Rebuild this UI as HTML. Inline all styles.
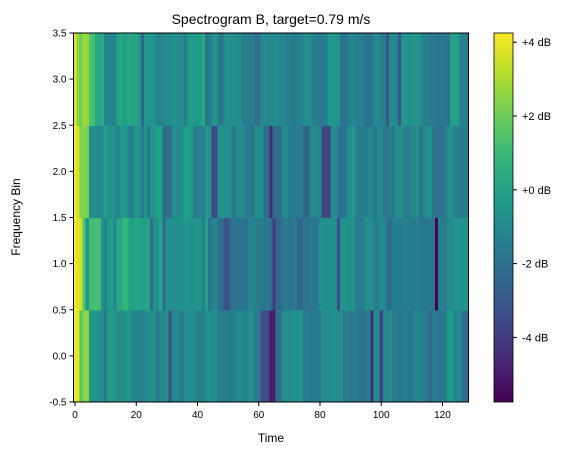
<!DOCTYPE html>
<html><head><meta charset="utf-8"><style>
body{margin:0;background:#fff}
text{font-family:"Liberation Sans",sans-serif;fill:#000}
</style></head><body>
<svg id="chart" width="575" height="455" viewBox="0 0 575 455" xmlns="http://www.w3.org/2000/svg">
<defs><linearGradient id="cbg" x1="0" y1="1" x2="0" y2="0"></linearGradient></defs>
<text x="271" y="24" text-anchor="middle" font-size="14">Spectrogram B, target=0.79 m/s</text>
<g id="cells"></g>
<g id="axes"></g>
<text x="271" y="442" text-anchor="middle" font-size="12">Time</text>
<text transform="translate(20,217) rotate(-90)" text-anchor="middle" font-size="12">Frequency Bin</text>
<g id="cbar"></g>
</svg>
<script>
const row0 = [4.1,3.9,1.5,2.5,2.6,-0.5,-0.4,-0.6,-0.8,-0.9,-1.8,-0.4,-0.3,-0.5,-0.8,-0.7,-0.9,-0.4,-0.5,-1.3,-1.2,-1.4,-1.3,-1.2,-0.8,-0.7,-0.9,-2.0,-1.0,-1.1,-0.9,-3.5,-1.1,-1.0,-1.2,-2.0,-0.9,-0.8,-1.0,-0.9,-1.3,-1.4,-1.2,-0.8,-0.7,-0.9,-0.8,-1.5,-1.6,-1.4,-1.5,-1.6,-1.4,-1.1,-1.0,-1.2,-1.1,-0.8,-0.7,-1.6,-1.7,-3.5,-3.4,-3.6,-5.0,-4.8,-2.0,-2.1,-0.9,-0.8,-1.0,-0.9,-0.8,-0.6,-0.5,-1.6,-1.5,-1.7,-1.6,-1.5,-1.7,-0.9,-0.8,-1.0,-0.9,-0.8,-1.0,-0.9,-1.6,-1.5,-1.7,-1.6,-1.5,-2.0,-2.1,-1.9,-1.5,-4.5,-0.9,-1.0,-3.8,-1.0,-1.1,-0.9,-1.7,-1.6,-1.8,-1.7,-1.6,-1.8,-1.7,-1.2,-1.1,-1.3,-1.7,-1.8,-2.3,-1.7,-1.6,-1.8,-1.7,-1.6,-0.3,-0.2,-1.1,-1.0,-1.2,-2.5,-2.4];
const row1 = [4.2,3.8,3.5,1.5,-0.5,1.2,1.1,1.3,1.2,-0.7,-1.3,-0.3,-0.2,-1.2,0.3,0.2,0.9,0.8,0.0,-0.1,0.1,0.0,-0.1,0.0,0.1,-2.2,-0.8,-0.7,0.1,-2.5,-0.7,-0.8,-0.8,-0.9,-0.7,-0.8,-0.6,-0.5,-0.7,-0.6,-0.5,-0.6,-1.5,0.0,-1.8,-1.2,-1.1,-2.2,-2.1,-3.2,-3.3,-2.3,-1.8,-1.9,-1.9,-1.8,-2.0,-1.2,-1.1,-1.3,-1.7,-1.6,-1.8,-1.7,-2.3,-4.0,-2.5,-2.4,-1.8,-1.7,-1.9,-1.8,-1.7,-2.6,-2.5,-1.8,-1.9,-1.7,-1.8,-1.9,-0.8,-0.7,-0.9,-0.8,-0.7,-0.9,-3.5,-0.7,-0.6,-0.8,-0.7,-0.6,-1.5,-1.4,-1.6,-0.8,-0.9,-0.8,-1.5,-1.4,-1.0,-1.1,-2.2,-2.3,-1.5,-1.4,-1.6,-1.5,-1.4,-1.5,-1.6,-1.5,-1.4,-1.7,-1.8,-1.6,-1.7,-1.8,-5.7,-1.5,-1.4,-1.6,-0.9,-1.0,-0.6,-0.5,-0.7,-0.6,-0.5];
const row2 = [4.2,3.5,2.3,2.4,2.2,-0.8,-0.7,-0.9,-1.3,-0.8,0.0,-0.7,-0.6,-0.8,-1.5,-0.5,-0.4,-0.6,-1.5,-1.4,-0.6,-0.7,-1.8,-0.4,-1.8,-0.6,-0.5,0.0,-0.1,-2.2,-2.1,-2.3,-1.0,-0.9,-1.1,-1.0,-0.2,-0.1,-0.3,-1.5,-1.6,-1.4,-1.5,-0.5,-0.6,-3.7,-3.5,-0.7,-0.6,-0.8,-0.7,-0.9,-2.0,-0.9,-1.0,-0.8,-1.7,-1.6,-1.8,-0.8,-0.9,-0.7,-2.3,-2.2,-4.5,-2.2,-2.1,-2.3,-1.0,-0.9,-1.6,-1.5,-1.7,-1.6,-1.5,-2.5,-2.6,-1.0,-0.9,-1.1,-1.0,-3.7,-3.6,-3.8,-1.0,-0.9,-2.0,-2.1,-1.9,-1.2,-0.5,-0.4,-1.5,-1.6,-1.4,-1.5,-1.2,-1.1,-2.0,-1.0,-0.9,-1.8,-1.6,-1.5,-1.7,-0.8,-0.7,-0.9,-1.6,-1.5,-1.0,-1.1,-0.9,-2.2,-1.1,-0.7,-0.8,-2.0,-2.1,-1.9,-2.0,-1.6,-0.8,-0.7,-1.5,-1.4,-1.6,-1.5,-1.4];
const row3 = [3.8,2.5,2.0,2.8,2.6,1.5,1.2,0.3,0.2,0.4,-1.2,-1.2,-1.1,-1.3,0.0,0.2,-0.2,0.1,0.3,0.0,0.1,-0.3,-2.5,-0.5,-0.6,-0.4,-0.7,-1.2,-1.3,-1.0,-0.8,-0.9,-0.7,-0.8,-0.9,-0.8,-1.5,-0.3,-0.2,-0.4,-0.3,-0.2,0.3,-1.8,-1.7,-0.6,-0.5,-1.8,-1.9,-0.7,-0.6,-0.8,-0.7,-0.9,-0.8,-1.5,-1.4,-1.6,-1.5,-2.0,-2.1,-1.0,-0.9,-1.1,-1.0,-1.1,-0.9,-1.2,-1.0,-1.5,-1.4,-1.6,-1.5,-1.4,-1.3,-0.8,-0.7,-0.9,-1.6,-1.5,-1.7,-1.6,-1.4,-0.5,-0.4,-0.6,-0.5,-1.8,-1.9,-1.7,-1.3,-1.2,-1.4,-1.3,-1.5,-2.0,-2.0,-1.9,-1.0,-0.9,-1.5,-1.6,-3.2,-1.0,-0.9,-1.1,-3.0,-0.6,-0.5,-0.7,-0.6,-0.4,-0.6,-0.7,-1.5,-1.4,-1.6,-1.5,-1.8,-1.9,-1.7,-1.8,-1.9,-0.1,0.0,-0.2,-1.5,-1.4,-1.6];
const rows = [row0, row1, row2, row3];
const xTicks = [0,20,40,60,80,100,120];
const yTicks = [-0.5,0.0,0.5,1.0,1.5,2.0,2.5,3.0,3.5];
const cbTicks = [4,2,0,-2,-4];
const cbLabels = ["+4 dB","+2 dB","+0 dB","-2 dB","-4 dB"];
const vmin = -5.75, vmax = 4.25;

const NS="http://www.w3.org/2000/svg";
const L=73.5,R=468.5,T=33,B=402;
const nCols=row0.length;
const xs=v=>L+(v+0.5)*(R-L)/nCols;
const ys=v=>B-(v+0.5)*(B-T)/4;
const vir=[[68,1,84],[72,40,120],[62,74,137],[49,104,142],[38,130,142],[31,158,137],[53,183,121],[109,205,89],[180,222,44],[253,231,37]];
function cmap(v){let t=Math.max(0,Math.min(1,(v-vmin)/(vmax-vmin)))*(vir.length-1);let i=Math.min(vir.length-2,Math.floor(t)),f=t-i;const c=vir[i].map((a,k)=>Math.round(a+(vir[i+1][k]-a)*f));return `rgb(${c[0]},${c[1]},${c[2]})`;}
function mk(tag,attrs,parent){const e=document.createElementNS(NS,tag);for(const k in attrs)e.setAttribute(k,attrs[k]);parent.appendChild(e);return e;}
const cells=document.getElementById('cells');
rows.forEach((row,r)=>row.forEach((v,c)=>{
  const x0=xs(c-0.5),x1=xs(c+0.5),y0=ys(r+0.5),y1=ys(r-0.5);
  const el=mk('rect',{x:x0,y:y0,width:x1-x0+0.4,height:y1-y0+0.5,fill:cmap(v),'shape-rendering':'crispEdges'},cells);
  
  
}));
const ax=document.getElementById('axes');
const fr=mk('rect',{x:L,y:T,width:R-L,height:B-T,fill:'none',stroke:'#000','stroke-width':1},ax);


xTicks.forEach(t=>{const x=xs(t);mk('line',{x1:x,x2:x,y1:B,y2:B+4,stroke:'#000'},ax);
  const tx=mk('text',{x:x,y:B+16,'text-anchor':'middle','font-size':10},ax);tx.textContent=t;
  
  });
yTicks.forEach(t=>{const y=ys(t);mk('line',{x1:L-4,x2:L,y1:y,y2:y,stroke:'#000'},ax);
  const tx=mk('text',{x:L-7,y:y+3.5,'text-anchor':'end','font-size':10},ax);tx.textContent=t.toFixed(1);
  
  });
const g=document.getElementById('cbg');
for(let i=0;i<=20;i++){mk('stop',{offset:i/20,'stop-color':cmap(vmin+(vmax-vmin)*i/20)},g);}
const cb=document.getElementById('cbar');
const CL=494,CR=513;
const cy=v=>B-(v-vmin)/(vmax-vmin)*(B-T);
const cr=mk('rect',{x:CL,y:T,width:CR-CL,height:B-T,fill:'url(#cbg)',stroke:'#000','stroke-width':0.8},cb);


cbTicks.forEach((t,i)=>{const y=cy(t);mk('line',{x1:CR,x2:CR+4,y1:y,y2:y,stroke:'#000'},cb);
  const tx=mk('text',{x:CR+9,y:y+4,'font-size':11},cb);tx.textContent=cbLabels[i];
  
  });
</script>
</body></html>
